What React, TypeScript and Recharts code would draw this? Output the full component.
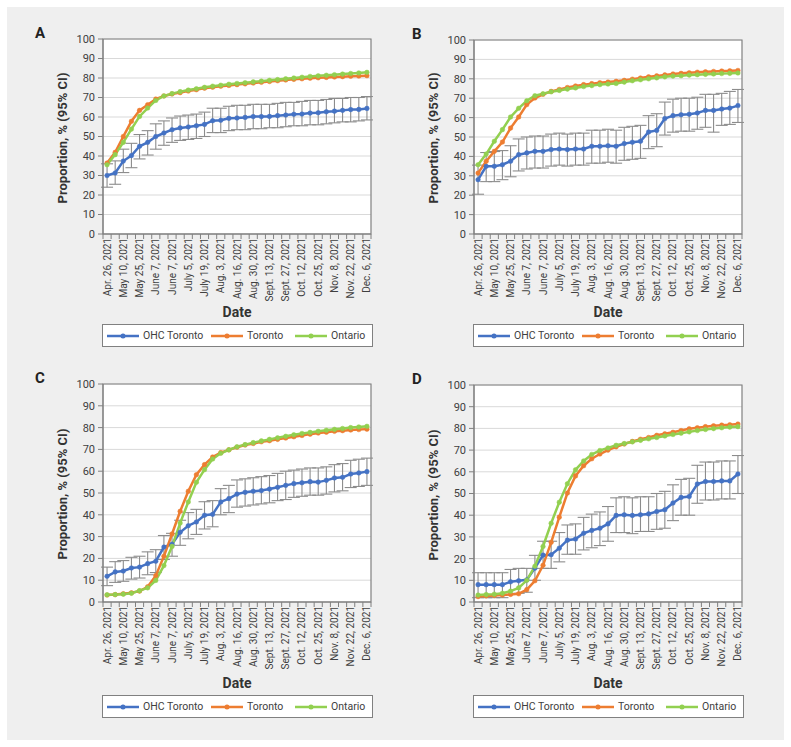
import { CartesianGrid, ErrorBar, Line, LineChart, ReferenceArea, XAxis, YAxis } from 'recharts';

const tickLabels = [
  'Apr. 26, 2021', 'May 10, 2021', 'May 25, 2021', 'June 7, 2021', 'June 7, 2021',
  'July 5, 2021', 'July 19, 2021', 'Aug. 3, 2021', 'Aug. 16, 2021', 'Aug. 30, 2021',
  'Sept. 13, 2021', 'Sept. 27, 2021', 'Oct. 12, 2021', 'Oct. 25, 2021', 'Nov. 8, 2021',
  'Nov. 22, 2021', 'Dec. 6, 2021',
];
const yTicks = [0, 10, 20, 30, 40, 50, 60, 70, 80, 90, 100];

// panel A
const ohcA = [30, 31.3, 37.4, 40.2, 45, 47, 50, 51.8, 53.5, 54.4, 54.9, 55.5, 56.2, 58.1, 58.3, 59.3, 59.5, 59.8, 60.2, 60.2, 60.3, 60.7, 61, 61.4, 61.5, 62, 62.2, 62.7, 63, 63.4, 63.8, 63.9, 64.4];
const ohcLowA = [24, 25.5, 31.5, 34, 38.5, 40.5, 43.5, 45.5, 47, 48, 48.5, 49, 50, 52, 52, 53, 53.5, 53.5, 54, 54, 54.5, 54.5, 55, 55.5, 55.5, 56, 56, 56.5, 57, 57.5, 57.5, 58, 58.5];
const ohcHighA = [36, 37.5, 43.5, 46.5, 51, 53, 56.5, 58, 59.5, 60.5, 61, 61.5, 62.5, 64.5, 64.5, 65.5, 66, 66, 66.5, 66.5, 66.5, 67, 67.5, 67.5, 68, 68.5, 68.5, 69, 69.5, 69.5, 70, 70, 70.5];
const torontoA = [36.4, 41.9, 50, 57.8, 63.4, 66.3, 69.2, 70.8, 71.8, 72.5, 73.3, 74, 74.8, 75.3, 75.8, 76.2, 76.6, 77, 77.4, 77.8, 78.2, 78.6, 79, 79.3, 79.6, 79.9, 80.1, 80.3, 80.5, 80.7, 80.9, 81, 81.2];
const ontarioA = [35.5, 40.7, 47, 53.8, 60.3, 64.6, 68.5, 70.8, 72, 73, 73.8, 74.5, 75.2, 75.8, 76.3, 76.8, 77.2, 77.6, 78, 78.4, 78.8, 79.2, 79.6, 80, 80.4, 80.8, 81.1, 81.4, 81.7, 82, 82.3, 82.6, 82.9];

// panel B
const ohcB = [28, 34.9, 34.9, 35.7, 37.5, 40.9, 41.8, 42.6, 42.6, 43.5, 43.8, 43.5, 43.8, 43.8, 45.2, 45.2, 45.5, 45.2, 46.6, 47.3, 47.8, 52.6, 53.4, 59.5, 61, 61.5, 61.7, 62.4, 63.7, 63.7, 64.4, 64.9, 66.2];
const ohcLowB = [20.5, 27, 27, 28, 29.5, 32.5, 33.5, 34, 34, 35, 35.5, 35, 35.5, 35.5, 36.5, 36.5, 37, 36.5, 38, 38.5, 39, 44, 45, 51, 52.5, 53, 53, 54, 55, 52.5, 56, 56.5, 57.5];
const ohcHighB = [35.5, 42, 42.5, 43, 45.5, 49, 50, 50.5, 50.5, 51.5, 52, 51.5, 52, 52, 53.5, 53.5, 54, 53.5, 55, 55.5, 56, 61, 62, 68, 69.5, 70, 70, 70.5, 72, 72, 72.5, 73.5, 74.5];
const torontoB = [31.4, 37.5, 42.6, 47.4, 54.6, 60.3, 66.7, 70.1, 72, 73.5, 74.5, 75.5, 76.3, 77, 77.5, 78, 78.3, 78.7, 79.2, 79.8, 80.4, 81, 81.5, 82, 82.5, 82.8, 83.1, 83.4, 83.6, 83.8, 84, 84.1, 84.3];
const ontarioB = [35.7, 41.2, 47.8, 53.8, 60.3, 64.8, 68.7, 71.3, 72.3, 73.3, 74, 74.7, 75.3, 76, 76.5, 77, 77.3, 77.6, 78.3, 79, 79.5, 80, 80.5, 81, 81.4, 81.6, 81.9, 82.1, 82.3, 82.5, 82.7, 82.8, 83];

// panel C
const ohcC = [11.8, 13.8, 14.2, 15.6, 16, 17.6, 18.7, 25.2, 26.5, 32, 35, 36.7, 39.8, 40.2, 45.9, 47.4, 49.5, 50.3, 50.8, 51.1, 51.8, 52.6, 53.5, 54.3, 54.7, 55.2, 55, 55.8, 56.9, 57.2, 58.7, 59.2, 59.8];
const ohcLowC = [7.5, 9, 9.5, 10.5, 11, 12.5, 13.5, 19.5, 21, 26, 29, 31, 33.5, 34.5, 40, 41, 43.5, 44, 44.5, 45, 45.5, 46.5, 47, 48, 48.5, 49, 49, 49.5, 50.5, 51, 52.5, 53, 53.5];
const ohcHighC = [16, 18.5, 19, 20.5, 21, 23, 24, 30.5, 31.5, 37.5, 41, 42.5, 46, 46.5, 52, 53.5, 56, 56.5, 57, 57.5, 58, 59, 60, 60.5, 61, 61.5, 61.5, 62, 63, 63.5, 65, 65.5, 66];
const torontoC = [3.2, 3.4, 3.8, 4.2, 5, 7, 12.1, 21, 31.2, 41.6, 50.8, 58.4, 63, 66.5, 68.5, 69.8, 71, 72, 72.7, 73.5, 74, 74.6, 75.2, 75.8, 76.4, 77, 77.5, 77.9, 78.3, 78.6, 78.9, 79.1, 79.3];
const ontarioC = [3.3, 3.4, 3.6, 4, 5.2, 6.5, 9.9, 16.7, 25.5, 36.2, 45.9, 54.9, 60.7, 65.6, 68.2, 69.8, 71.2, 72.2, 73.1, 73.9, 74.6, 75.3, 76, 76.7, 77.3, 77.8, 78.3, 78.8, 79.2, 79.6, 80, 80.3, 80.6];

// panel D
const ohcD = [8, 8, 8, 8, 9.3, 9.8, 10.2, 15.6, 21.6, 21.8, 24.8, 28.5, 29, 31.7, 33, 34, 36, 39.9, 40.2, 39.9, 40.2, 40.6, 41.7, 42.5, 45.6, 48.2, 48.6, 54.4, 55.5, 55.5, 55.8, 55.8, 59];
const ohcLowD = [2, 2, 2, 2, 3.5, 4, 4.5, 10, 15.5, 15.5, 18.5, 22, 22, 24, 25, 26, 28, 32, 32, 31.5, 32.5, 32.5, 33.5, 34, 37.5, 40, 40, 45.5, 47, 47, 47.5, 47.5, 50];
const ohcHighD = [13.5, 13.5, 13.5, 13.5, 15, 15.5, 15.5, 21.5, 28, 28, 32, 35.5, 36, 39, 40.5, 41.5, 44, 48, 48.5, 48, 48.5, 48.5, 50, 51, 54, 56.5, 57, 63, 64.5, 64.5, 65, 65, 67.5];
const torontoD = [2.5, 2.8, 3, 3.2, 3.5, 3.8, 5.7, 9.8, 16.9, 27.5, 39.1, 50.2, 58.1, 62.8, 66, 68.2, 70, 71.5, 72.8, 74, 75, 75.8, 76.8, 77.5, 78.2, 79, 79.8, 80.3, 80.8, 81.2, 81.5, 81.7, 82];
const ontarioD = [3.2, 3.4, 3.6, 4, 5, 6.5, 10, 16.5, 25.6, 36.3, 46, 54.5, 60.9, 65, 68, 69.8, 71, 72.2, 73, 73.8, 74.5, 75.2, 75.8, 76.5, 77.2, 77.8, 78.4, 79, 79.5, 79.9, 80.3, 80.6, 80.8];

const BLUE = '#4472c4';
const ORANGE = '#ed7d31';
const GREEN = '#92d050';
const FONT = 'Roboto, "Noto Sans", sans-serif';
const PLOT_W = 268;

function buildRows(ohc: number[], low: number[], high: number[], toronto: number[], ontario: number[]) {
  return ohc.map((v, i) => ({
    week: i,
    ohc: v,
    ohcErr: [v - low[i], high[i] - v],
    toronto: toronto[i],
    ontario: ontario[i],
  }));
}

function DateTick(props: any) {
  const { x, y, payload, cw, last } = props;
  const i = payload.value;
  return (
    <g transform={`translate(${x},${y})`}>
      <line x1={-cw / 2} x2={-cw / 2} y1={-4} y2={1} stroke='#808080' />
      {i === last && <line x1={cw / 2} x2={cw / 2} y1={-4} y2={1} stroke='#808080' />}
      {i % 2 === 0 && (
        <text transform='rotate(-90)' textAnchor='end' dy='0.35em' fontSize={10} fill='#404040' fontFamily={FONT}>
          {tickLabels[i / 2]}
        </text>
      )}
    </g>
  );
}

function LegendItem({ color, label, left }: { color: string; label: string; left: number }) {
  return (
    <div style={{ position: 'absolute', left, top: 0, height: 21, display: 'flex', alignItems: 'center' }}>
      <svg width={32} height={8}>
        <line x1={0} x2={32} y1={4} y2={4} stroke={color} strokeWidth={2.5} />
        <circle cx={16} cy={4} r={2.5} fill={color} />
      </svg>
      <span style={{ marginLeft: 4, fontSize: 10.5, color: '#404040' }}>{label}</span>
    </div>
  );
}

interface PanelProps {
  letter: string;
  letterX: number;
  x0: number;
  y0: number;
  plotH: number;
  dateGap: number;
  rows: ReturnType<typeof buildRows>;
}

function Panel({ letter, letterX, x0, y0, plotH, dateGap, rows }: PanelProps) {
  const cw = PLOT_W / rows.length;
  const weeks = rows.map((r) => r.week);
  const last = weeks[weeks.length - 1];
  const bottom = y0 + plotH;
  return (
    <>
      <div style={{ position: 'absolute', left: letterX, top: y0 - 13, fontSize: 15, fontWeight: 700, lineHeight: 1, color: '#222' }}>
        {letter}
      </div>
      <div
        style={{
          position: 'absolute',
          left: x0 - 40 - 100,
          top: y0 + plotH / 2 + 1 - 9,
          width: 200,
          height: 18,
          lineHeight: '18px',
          textAlign: 'center',
          fontSize: 13,
          fontWeight: 700,
          color: '#333',
          transform: 'rotate(-90deg)',
        }}
      >
        Proportion, % (95% CI)
      </div>
      <div style={{ position: 'absolute', left: x0, top: bottom + dateGap - 9, width: PLOT_W, textAlign: 'center', fontSize: 14, fontWeight: 700, lineHeight: '18px', color: '#333' }}>
        Date
      </div>
      <div
        style={{
          position: 'absolute',
          left: x0 - 1,
          top: bottom + dateGap + 12,
          width: PLOT_W + 1,
          height: 21,
          border: '1px solid #808080',
          background: '#fff',
        }}
      >
        <LegendItem color={BLUE} label='OHC Toronto' left={4} />
        <LegendItem color={ORANGE} label='Toronto' left={108} />
        <LegendItem color={GREEN} label='Ontario' left={192} />
      </div>
      <div style={{ position: 'absolute', left: x0 - 50, top: y0 - 10 }}>
        <LineChart width={50 + PLOT_W + 10} height={10 + plotH + 70} data={rows} margin={{ top: 10, right: 10, bottom: 0, left: 0 }}>
          <CartesianGrid vertical={false} stroke='#d9d9d9' fill='#ffffff' fillOpacity={1} />
          <XAxis
            dataKey='week'
            type='number'
            domain={[-0.5, last + 0.5]}
            ticks={weeks}
            interval={0}
            height={70}
            tickSize={0}
            tickMargin={4}
            tickLine={false}
            axisLine={{ stroke: '#808080' }}
            tick={<DateTick cw={cw} last={last} />}
          />
          <YAxis
            domain={[0, 100]}
            ticks={yTicks}
            interval={0}
            width={50}
            tickSize={5}
            tickMargin={3}
            tick={{ fontSize: 11, fill: '#404040', fontFamily: FONT }}
            tickLine={{ stroke: '#808080' }}
            axisLine={{ stroke: '#808080' }}
          />
          <ReferenceArea x1={-0.5} x2={last + 0.5} y1={0} y2={100} fill='none' stroke='#808080' strokeWidth={1.2} />
          <Line
            dataKey='ohc'
            stroke={BLUE}
            strokeWidth={2.5}
            dot={{ r: 2.3, fill: BLUE, stroke: BLUE, strokeWidth: 0.5 }}
            activeDot={false}
            isAnimationActive={false}
          >
            <ErrorBar dataKey='ohcErr' width={6} stroke='#8c8c8c' strokeWidth={1.1} direction='y' />
          </Line>
          <Line
            dataKey='toronto'
            stroke={ORANGE}
            strokeWidth={2.5}
            dot={{ r: 2.3, fill: ORANGE, stroke: ORANGE, strokeWidth: 0.5 }}
            activeDot={false}
            isAnimationActive={false}
          />
          <Line
            dataKey='ontario'
            stroke={GREEN}
            strokeWidth={2.5}
            dot={{ r: 2.3, fill: GREEN, stroke: GREEN, strokeWidth: 0.5 }}
            activeDot={false}
            isAnimationActive={false}
          />
        </LineChart>
      </div>
    </>
  );
}

export default function App() {
  return (
    <div style={{ position: 'absolute', left: 0, top: 0, width: 791, height: 747, fontFamily: FONT, background: '#fff' }}>
      <div style={{ position: 'absolute', left: 7, top: 7, width: 777, height: 733, background: '#efefef' }} />
      <Panel letter='A' letterX={35} x0={103} y0={39} plotH={195} dateGap={78} rows={buildRows(ohcA, ohcLowA, ohcHighA, torontoA, ontarioA)} />
      <Panel letter='B' letterX={412} x0={474} y0={40} plotH={194} dateGap={78} rows={buildRows(ohcB, ohcLowB, ohcHighB, torontoB, ontarioB)} />
      <Panel letter='C' letterX={35} x0={103} y0={384} plotH={218} dateGap={81} rows={buildRows(ohcC, ohcLowC, ohcHighC, torontoC, ontarioC)} />
      <Panel letter='D' letterX={412} x0={474} y0={385} plotH={217} dateGap={81} rows={buildRows(ohcD, ohcLowD, ohcHighD, torontoD, ontarioD)} />
    </div>
  );
}
